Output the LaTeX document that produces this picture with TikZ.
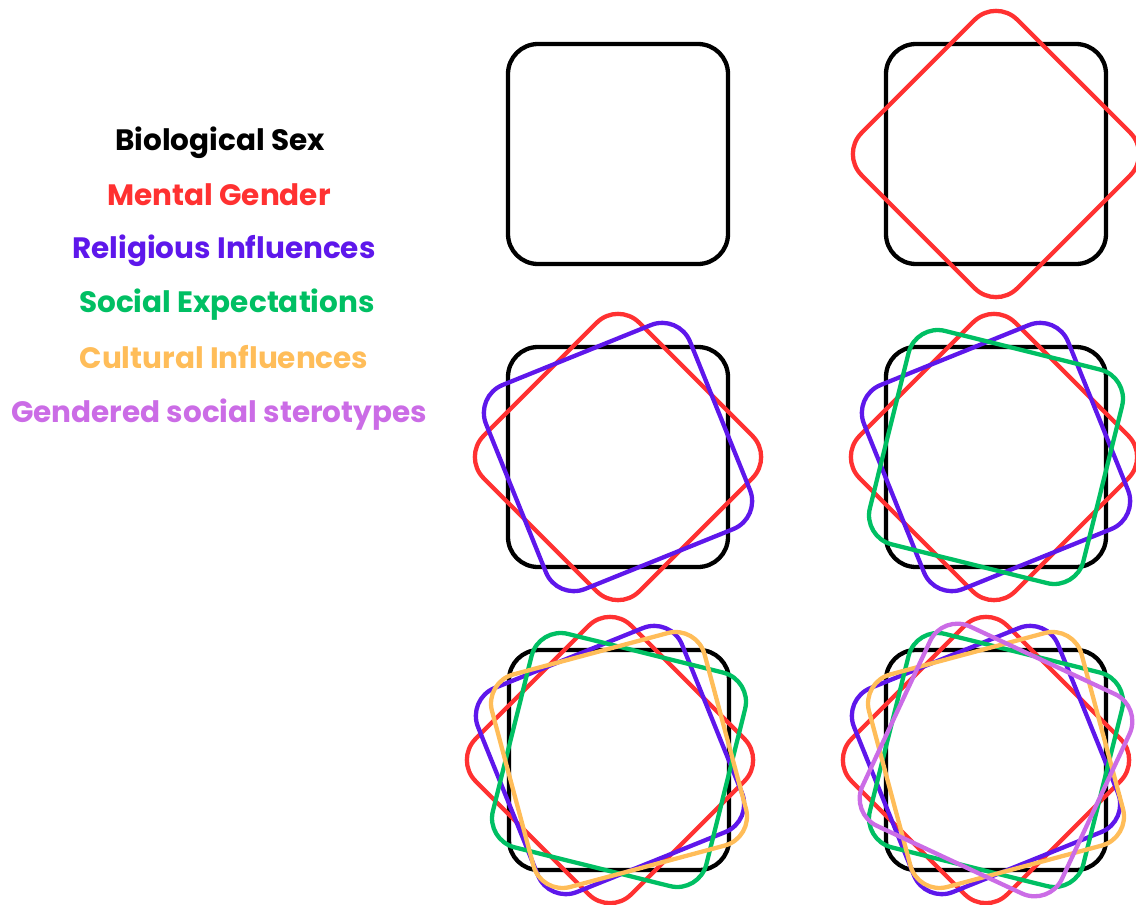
\documentclass[tikz,border=0pt]{standalone}
\usepackage{fontspec}
\setmainfont{Poppins}
\usepackage{tikz}
\definecolor{mentalred}{RGB}{255,49,49}
\definecolor{religpurple}{RGB}{94,23,235}
\definecolor{socgreen}{RGB}{0,191,99}
\definecolor{cultorange}{RGB}{255,189,89}
\definecolor{sterlilac}{RGB}{203,108,230}

\begin{document}
\begin{tikzpicture}[x=1pt,y=-1pt,
  sq/.style={line width=4.3pt,rounded corners=30pt},
  lbl/.style={font=\fontsize{29.5}{35}\selectfont\bfseries,anchor=base}]
  \useasboundingbox (0,0) rectangle (1136,905);
  \node[lbl,text=black] (sex) at (220,150) {Biological Sex};
  \node[lbl,text=mentalred] (mental) at (219,205) {Mental Gender};
  \node[lbl,text=religpurple] (religious) at (224,258) {Religious Influences};
  \node[lbl,text=socgreen] (social) at (227,312) {Social Expectations};
  \node[lbl,text=cultorange] (cultural) at (224,368) {Cultural Influences};
  \node[lbl,text=sterlilac] (stereo) at (219,422) {Gendered social sterotypes};
  \begin{scope}[shift={(618,154)}]
    \draw[sq] (-110,-110) rectangle (110,110);
  \end{scope}
  \begin{scope}[shift={(996,154)}]
    \draw[sq] (-110,-110) rectangle (110,110);
    \draw[sq,mentalred,rotate=45] (-110,-110) rectangle (110,110);
  \end{scope}
  \begin{scope}[shift={(618,457)}]
    \draw[sq] (-110,-110) rectangle (110,110);
    \draw[sq,mentalred,rotate=45] (-110,-110) rectangle (110,110);
    \draw[sq,religpurple,rotate=22] (-110,-110) rectangle (110,110);
  \end{scope}
  \begin{scope}[shift={(996,457)}]
    \draw[sq] (-110,-110) rectangle (110,110);
    \draw[sq,mentalred,xshift=-2pt,rotate=45] (-110,-110) rectangle (110,110);
    \draw[sq,religpurple,rotate=22] (-110,-110) rectangle (110,110);
    \draw[sq,socgreen,rotate=-14] (-110,-110) rectangle (110,110);
  \end{scope}
  \begin{scope}[shift={(619,760)}]
    \draw[sq] (-110,-110) rectangle (110,110);
    \draw[sq,mentalred,xshift=-9pt,rotate=45] (-110,-110) rectangle (110,110);
    \draw[sq,religpurple,xshift=-9pt,rotate=22] (-110,-110) rectangle (110,110);
    \draw[sq,socgreen,rotate=-14] (-110,-110) rectangle (110,110);
    \draw[sq,cultorange,rotate=15] (-110,-110) rectangle (110,110);
  \end{scope}
  \begin{scope}[shift={(996,760)}]
    \draw[sq] (-110,-110) rectangle (110,110);
    \draw[sq,mentalred,xshift=-10pt,rotate=45] (-110,-110) rectangle (110,110);
    \draw[sq,religpurple,xshift=-10pt,rotate=22] (-110,-110) rectangle (110,110);
    \draw[sq,socgreen,rotate=-14] (-110,-110) rectangle (110,110);
    \draw[sq,cultorange,rotate=15] (-110,-110) rectangle (110,110);
    \draw[sq,sterlilac,rotate=-25] (-110,-110) rectangle (110,110);
  \end{scope}
\end{tikzpicture}
\end{document}
